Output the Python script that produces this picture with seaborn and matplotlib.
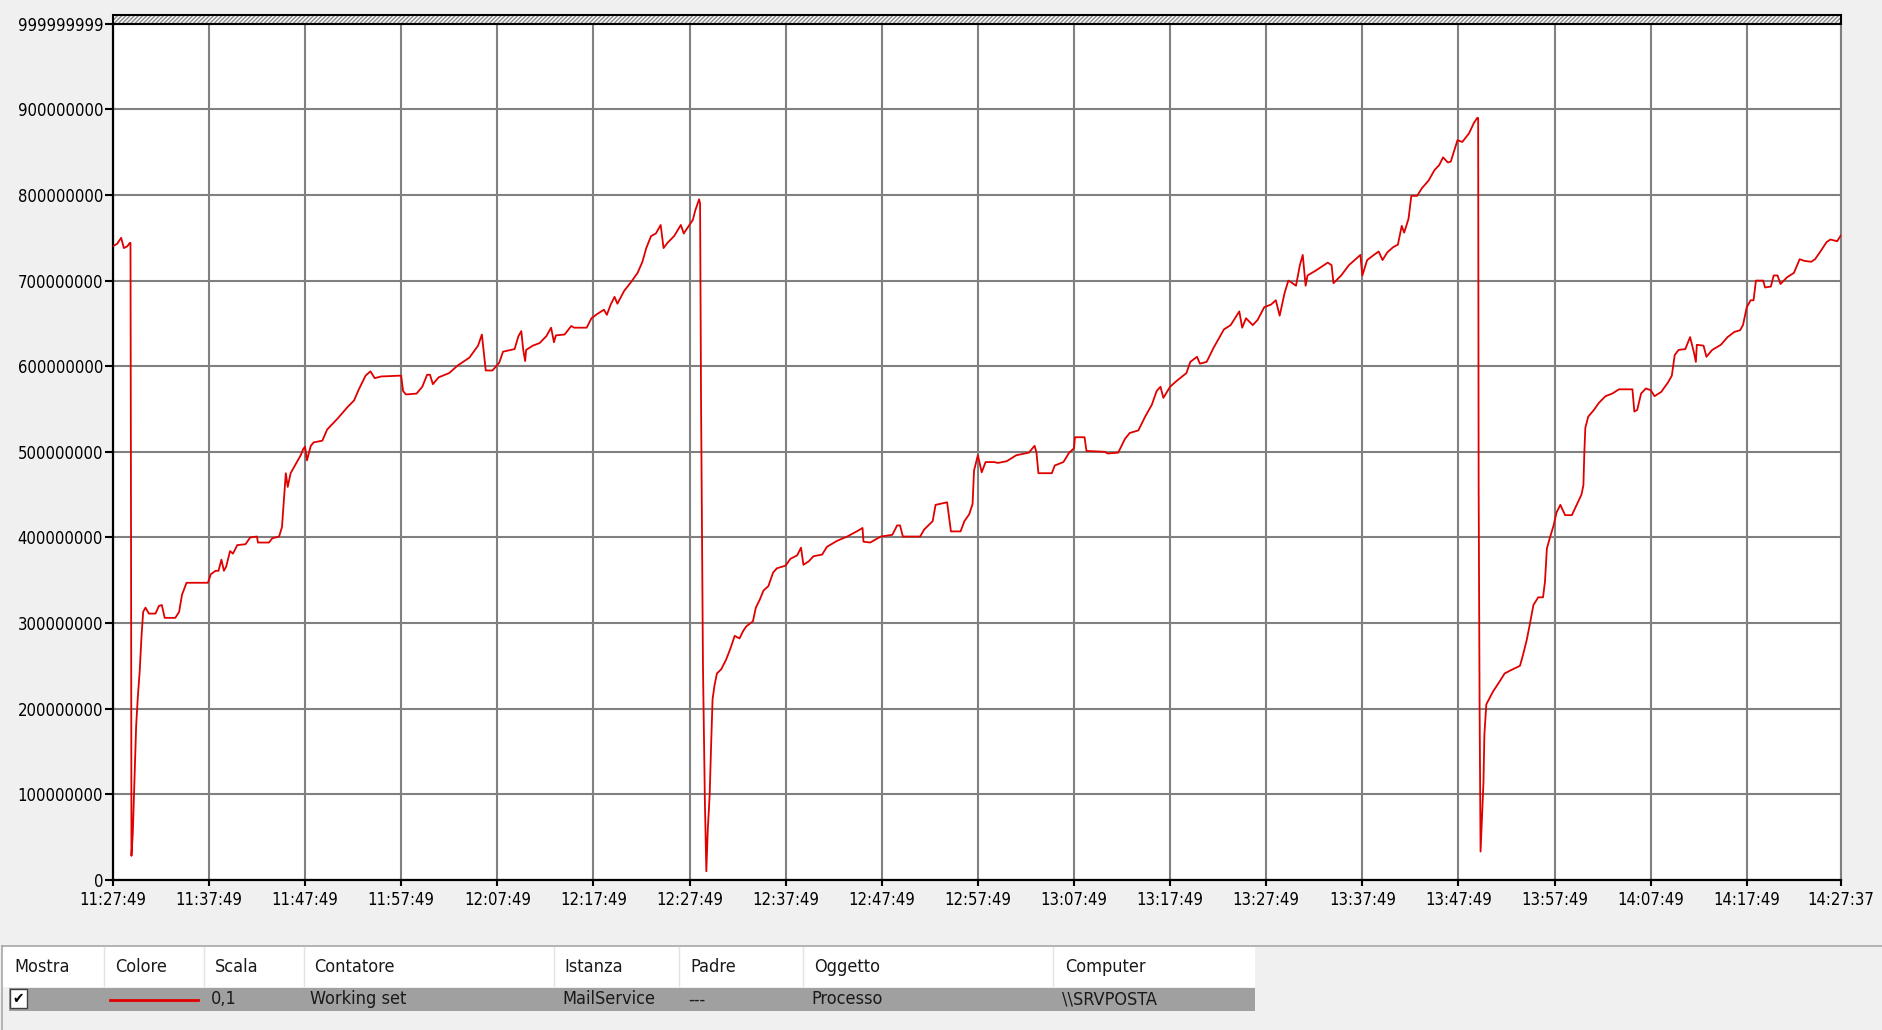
import matplotlib
matplotlib.use("Agg")
import matplotlib.pyplot as plt
from matplotlib.patches import Rectangle
import numpy as np
import pandas as pd
import seaborn as sns

# minutes elapsed since 11:27:49
minutes = [
    0, 0.45, 0.87, 1.15, 1.5, 1.77, 1.84, 1.9, 1.94, 2.08, 2.26, 2.43, 2.6, 2.8, 2.99,
    3.16, 3.4, 3.75, 4.44, 4.8, 5.1, 5.4, 6.5, 6.9, 7.2, 7.67, 9.9, 10.2, 10.7, 11.0,
    11.3, 11.56, 11.8, 12.2, 12.5, 12.95, 13.8, 14.3, 15.0, 15.1, 16.25, 16.6, 17.3,
    17.6, 17.8, 18.0, 18.2, 18.5, 19.0, 19.55, 19.8, 20.0, 20.2, 20.6, 20.9, 21.8,
    22.3, 23.4, 24.4, 25.1, 25.6, 26.3, 26.8, 27.25, 27.9, 29.8, 30.0, 30.2, 30.5,
    31.6, 32.2, 32.7, 33.0, 33.3, 33.9, 35.0, 35.9, 37.1, 38.0, 38.4, 38.6, 38.8,
    39.5, 40.2, 40.6, 41.8, 42.2, 42.5, 42.7, 42.9, 43.0, 43.7, 44.4, 45.1, 45.6,
    45.9, 46.1, 47.0, 47.7, 48.0, 49.3, 49.8, 50.4, 51.1, 51.4, 51.8, 52.2, 52.5,
    53.2, 53.9, 54.6, 55.1, 55.5, 56.0, 56.5, 57.0, 57.3, 57.7, 58.4, 59.1, 59.4,
    60.0, 60.35, 60.6, 61.0, 61.1, 61.2, 61.4, 61.6, 61.75, 61.9, 62.1, 62.25, 62.4,
    62.6, 62.85, 63.3, 63.8, 64.25, 64.7, 65.2, 65.6, 65.9, 66.6, 66.9, 67.3, 67.7,
    68.2, 68.7, 69.1, 70.0, 70.5, 71.2, 71.6, 71.85, 72.4, 72.9, 73.8, 74.3, 75.35,
    76.4, 77.4, 78.0, 78.1, 78.8, 79.9, 81.1, 81.6, 81.9, 82.2, 84.0, 84.4, 85.3,
    85.6, 86.8, 87.2, 88.2, 88.6, 89.1, 89.45, 89.6, 90.0, 90.4, 90.8, 91.7, 92.1,
    93.0, 94.0, 95.3, 95.9, 96.1, 96.3, 97.7, 98.0, 98.9, 99.5, 100.0, 100.1, 101.1,
    101.3, 103.2, 103.5, 104.6, 105.3, 105.8, 106.7, 107.4, 108.1, 108.6, 109.0,
    109.3, 110.0, 110.7, 111.7, 112.1, 112.8, 113.1, 113.8, 114.5, 115.6, 116.3,
    117.2, 117.5, 117.9, 118.6, 119.1, 119.8, 120.5, 121.0, 121.4, 121.9, 122.3,
    122.6, 123.1, 123.5, 123.8, 124.1, 124.3, 125.2, 126.4, 126.8, 127.0, 127.8,
    128.6, 129.8, 130.0, 130.5, 131.2, 131.7, 132.1, 132.6, 133.2, 133.7, 134.1,
    134.35, 134.8, 135.1, 135.7, 136.2, 136.9, 137.5, 138.0, 138.4, 138.9, 139.2,
    139.9, 140.4, 141.1, 141.6, 141.95, 142.05, 142.1, 142.2, 142.3, 142.4, 142.6,
    142.7, 142.9, 143.6, 144.3, 144.8, 145.3, 146.4, 146.7, 147.1, 147.4, 147.8,
    148.3, 148.8, 149.0, 149.2, 149.5, 149.9, 150.2, 150.6, 151.1, 151.8, 152.3,
    152.8, 153.0, 153.1, 153.2, 153.5, 154.1, 154.6, 155.3, 156.0, 156.7, 158.1,
    158.3, 158.6, 159.0, 159.5, 160.0, 160.4, 161.1, 161.8, 162.2, 162.5, 162.9,
    163.6, 164.1, 164.5, 164.7, 164.8, 165.5, 165.8, 166.4, 167.3, 168.0, 168.7,
    169.3, 169.6, 170.0, 170.4, 170.7, 170.95, 171.7, 171.9, 172.5, 172.8, 173.2,
    173.5, 174.2, 174.9, 175.5, 176.0, 176.7, 177.1, 177.6, 178.3, 178.7, 179.4, 179.8,
]

# Working set (MailService), millions of bytes
working_set_mb = [
    740, 743, 750, 738, 740, 744, 744, 386, 28, 54, 121, 180, 213, 244, 285,
    313, 318, 311, 311, 320, 321, 306, 306, 313, 333, 347, 347, 357, 361, 361,
    374, 361, 366, 384, 381, 391, 392, 400, 401, 394, 394, 399, 401,
    412, 443, 475, 459, 475, 485, 496, 503, 506, 490, 507, 511, 513,
    526, 539, 552, 560, 573, 589, 594, 586, 588, 589, 589, 571, 567,
    568, 576, 590, 590, 579, 587, 592, 601, 610, 624, 637, 616, 595,
    595, 604, 617, 620, 635, 641, 619, 606, 619, 624, 627, 635, 645,
    628, 636, 637, 647, 645, 645, 656, 661, 666, 660, 672, 681, 673,
    688, 698, 709, 722, 738, 752, 755, 765, 738, 744, 752, 765, 755,
    765, 771, 782, 795, 790, 559, 250, 91, 10, 58, 100, 158, 211,
    227, 241, 246, 257, 270, 285, 282, 291, 296, 302, 318, 327, 338,
    343, 359, 364, 367, 375, 379, 388, 368, 372, 378, 380, 389, 396,
    401, 407, 411, 395, 394, 401, 403, 414, 414, 401, 401, 409, 419,
    438, 441, 407, 407, 419, 427, 439, 478, 496, 476, 488, 488, 487,
    489, 496, 499, 507, 499, 475, 475, 484, 488, 499, 504, 517, 517,
    501, 500, 498, 499, 515, 522, 525, 541, 555, 571, 576,
    563, 576, 583, 592, 605, 611, 603, 605, 621, 643, 648,
    664, 645, 656, 648, 654, 669, 672, 677, 659, 685, 700,
    698, 694, 718, 730, 694, 706, 712, 721, 718, 697, 706,
    718, 730, 706, 724, 730, 734, 724, 733, 739, 742, 764,
    756, 772, 799, 799, 808, 817, 829, 835, 844, 838, 839,
    864, 862, 872, 884, 890, 890, 461, 201, 33, 60, 113,
    170, 205, 220, 232, 241, 244, 250, 262, 280, 297, 321,
    330, 330, 348, 387, 399, 414, 429, 438, 426, 426, 438,
    450, 461, 500, 528, 541, 549, 557, 565, 568, 573, 573,
    547, 549, 568, 574, 572, 565, 570, 581, 589, 613, 619,
    620, 634, 616, 605, 625, 624, 611, 619, 625, 634, 640,
    642, 648, 669, 677, 677, 700, 700, 692, 693, 706, 706,
    696, 704, 709, 725, 723, 722, 725, 733, 745, 748, 746, 753,
]

x_tick_minutes = [0, 10, 20, 30, 40, 50, 60, 70, 80, 90, 100, 110, 120, 130, 140, 150, 160, 170, 179.8]
x_tick_labels = ["11:27:49", "11:37:49", "11:47:49", "11:57:49", "12:07:49", "12:17:49",
                 "12:27:49", "12:37:49", "12:47:49", "12:57:49", "13:07:49", "13:17:49",
                 "13:27:49", "13:37:49", "13:47:49", "13:57:49", "14:07:49", "14:17:49",
                 "14:27:37"]
y_tick_values = [0, 100000000, 200000000, 300000000, 400000000, 500000000,
                 600000000, 700000000, 800000000, 900000000, 999999999]

legend_headers = ["Mostra", "Colore", "Scala", "Contatore", "Istanza", "Padre", "Oggetto", "Computer"]
legend_row = ["", "", "0,1", "Working set", "MailService", "---", "Processo", "\\\\SRVPOSTA"]

df = pd.DataFrame({"Tempo": minutes, "Working set": np.array(working_set_mb) * 1e6})

plt.rcParams['font.family'] = ['DejaVu Sans']
plt.rcParams['font.stretch'] = 'condensed'

W, H = 1882, 1030
fig = plt.figure(figsize=(W / 100, H / 100), dpi=100, facecolor='#F0F0F0')
ax = fig.add_axes([112.8 / W, 150.2 / H, (1841 - 112.8) / W, (1006.2 - 150.2) / H])
ax.set_facecolor('white')

sns.lineplot(data=df, x="Tempo", y="Working set", ax=ax, color="#E00000",
             linewidth=1.3, estimator=None, sort=False, zorder=3)

ax.set_xlim(0, 179.8)
ax.set_ylim(0, 999999999)
ax.set_xticks(x_tick_minutes, x_tick_labels)
ax.set_yticks(y_tick_values, [str(v) for v in y_tick_values])
ax.set_xlabel("")
ax.set_ylabel("")
ax.grid(True, color='#808080', linewidth=1.5)
ax.set_axisbelow(True)
ax.tick_params(axis='y', length=6, width=1.5, color='black', pad=1, labelsize=12)
ax.tick_params(axis='x', length=4, width=1.5, color='black', pad=4, labelsize=12)

for side in ['left', 'bottom']:
    ax.spines[side].set_color('black')
    ax.spines[side].set_linewidth(1.6)
ax.spines['top'].set_visible(False)
ax.spines['right'].set_color('#808080')
ax.spines['right'].set_linewidth(1.5)

# hatched strip above the top of the scale
band = 9 / 856
ax.add_patch(Rectangle((0, 1), 1, band, transform=ax.transAxes, clip_on=False,
                       facecolor='#F8F8F8', edgecolor='#8A8A8A', hatch='////////', lw=0, zorder=4))
ax.add_patch(Rectangle((0, 1), 1, band, transform=ax.transAxes, clip_on=False,
                       fill=False, edgecolor='black', lw=1.5, zorder=5))

# counter list below the graph
tab = fig.add_axes([0, 0, 1, 85 / H])
tab.set_xlim(0, W)
tab.set_ylim(H, 945)
tab.axis('off')
tab.plot([2, W], [945.5, 945.5], color='#A8A8A8', lw=1.2)
tab.plot([2.5, 2.5], [945, H], color='#A8A8A8', lw=1.2)
tab.add_patch(Rectangle((3, 947), 1252, 40, facecolor='white', edgecolor='none'))
col_x = [14, 115, 215, 314, 564, 690, 814, 1065]
for x in [104, 204, 304, 554, 679, 803, 1053]:
    tab.plot([x, x], [947, 986], color='#E3E3E3', lw=1)
for x, h in zip(col_x, legend_headers):
    tab.text(x, 967, h, ha='left', va='center', fontsize=13, color='#1A1A1A')

tab.add_patch(Rectangle((9, 988), 1246, 23, facecolor='#A0A0A0', edgecolor='none'))
tab.add_patch(Rectangle((10, 989), 17, 19, facecolor='white', edgecolor='#404040', lw=1))
tab.text(18.5, 999, "\u2714", ha='center', va='center', fontsize=11, color='black')
tab.plot([110, 198], [999.5, 999.5], color='#E00000', lw=2)
row_x = [0, 0, 211, 310, 562, 688, 811, 1062]
for x, v in zip(row_x, legend_row):
    if v:
        tab.text(x, 999.5, v, ha='left', va='center', fontsize=13, color='#1A1A1A')

fig.savefig("out.png", dpi=100, facecolor=fig.get_facecolor())
